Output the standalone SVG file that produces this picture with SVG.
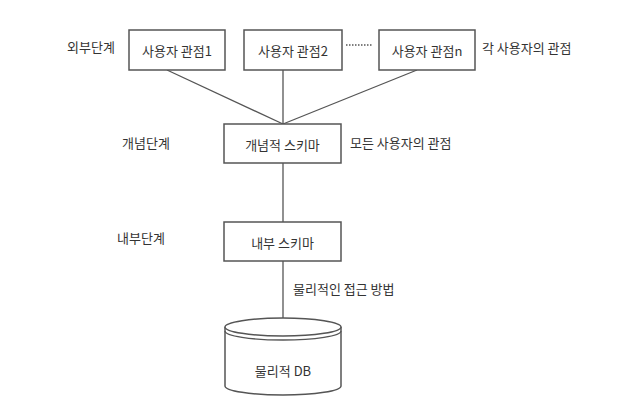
<svg xmlns="http://www.w3.org/2000/svg" width="642" height="407" viewBox="0 0 642 407">
<style>
.box{fill:#fff;stroke:#555;stroke-width:1.5}
.ln{fill:none;stroke:#555;stroke-width:1.3}
text{font-family:"Noto Sans CJK KR","Noto Sans",sans-serif;font-size:13px;fill:#333;dominant-baseline:central}
.c{text-anchor:middle}
</style>
<rect width="642" height="407" fill="#fff"/>
<g id="connectors">
<line class="ln" x1="167" y1="70" x2="283" y2="124"/>
<line class="ln" x1="283" y1="70" x2="283" y2="124"/>
<line class="ln" x1="417" y1="70" x2="283" y2="124"/>
<line class="ln" x1="283" y1="163" x2="283" y2="222"/>
<line class="ln" x1="283" y1="261" x2="283" y2="318"/>
<line class="ln" x1="346" y1="45" x2="373" y2="45" stroke-dasharray="1.5,1.5" stroke-width="1"/>
</g>
<g id="label-external"><text x="67" y="46">외부단계</text></g>
<g id="view1"><rect class="box" x="129" y="30" width="96" height="40"/><text class="c" x="177" y="50">사용자 관점1</text></g>
<g id="view2"><rect class="box" x="244" y="30" width="98" height="40"/><text class="c" x="293" y="50">사용자 관점2</text></g>
<g id="viewn"><rect class="box" x="379" y="30" width="96" height="40"/><text class="c" x="427" y="50">사용자 관점n</text></g>
<g id="label-each"><text x="482" y="47">각 사용자의 관점</text></g>
<g id="label-conceptual"><text x="122" y="142">개념단계</text></g>
<g id="conceptual"><rect class="box" x="224" y="124" width="117" height="39"/><text class="c" x="282.5" y="144">개념적 스키마</text></g>
<g id="label-all"><text x="350" y="142">모든 사용자의 관점</text></g>
<g id="label-internal"><text x="117" y="237">내부단계</text></g>
<g id="internal"><rect class="box" x="224" y="222" width="117" height="39"/><text class="c" x="282.5" y="242">내부 스키마</text></g>
<g id="label-access"><text x="293" y="288">물리적인 접근 방법</text></g>
<g id="db">
<path class="box" d="M225 327 L225 386 A58 9 0 0 0 341 386 L341 327"/>
<ellipse class="box" cx="283" cy="327" rx="58" ry="9"/>
<path class="ln" d="M225 331 A58 9 0 0 0 341 331"/>
<text class="c" x="283" y="370">물리적 DB</text>
</g>
</svg>
